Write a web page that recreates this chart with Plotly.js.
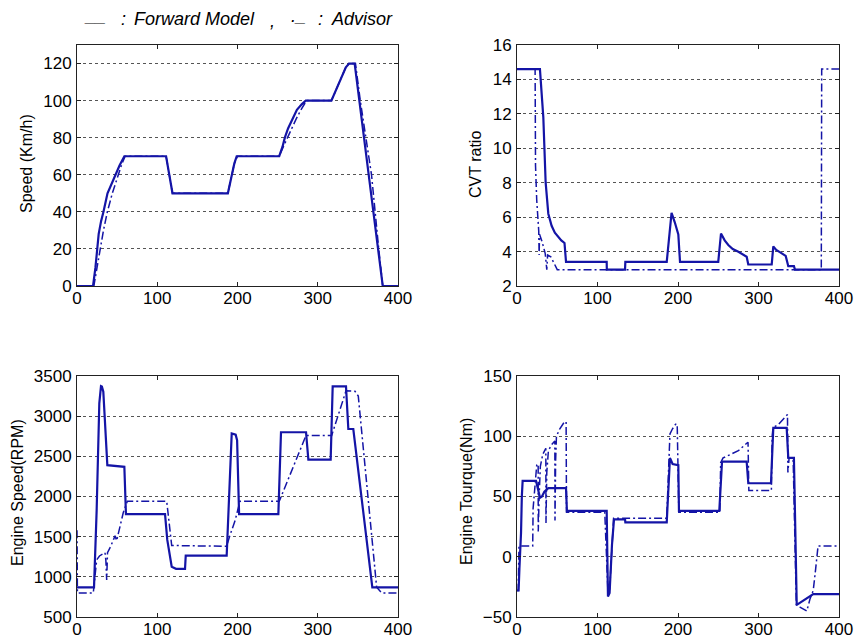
<!DOCTYPE html>
<html>
<head>
<meta charset="utf-8">
<script src="https://cdn.plot.ly/plotly-3.0.1.min.js"></script>
<style>html,body{margin:0;padding:0;background:#fff;}#chart{width:855px;height:638px;}</style>
</head>
<body>
<div id="chart"></div>
<script>
// ---- Data (time in s) ----
// Speed (Km/h)
const speedFwdT = [0,20,23,25,27,30,33,38,42,47,53,59,111,119,188,192,196,199,252,256,259,263,268,274,280,285,317,324,330,335,339,346,381,400];
const speedFwdV = [0,0,10,20,28,35,40,50,54,60,65,70,70,50,50,58,66,70,70,75,80,85,90,95,98,100,100,107,114,118,120,120,0,0];
const speedAdvT = [0,21,25,28.6,33,37.8,44,51.5,56,60,111,119,188,192,196,200,252,257,262,267,273,279,286,317,324,330,335,339,347,353,360,367,376,381,400];
const speedAdvV = [0,0,10,20,30,40,50,60,66,70,70,50,50,58,66,70,70,75,80,85,90,95,100,100,107,114,118,120,120,100,80,60,20,0,0];

// CVT ratio
const cvtFwdT = [0,28.5,32.7,35.6,38.9,43,47,51.3,55,59,60.9,111.4,111.6,134.2,134.6,186,192,196,200.4,202.5,250,253.4,258,262.5,268,275,280,285.3,287.3,316.4,318.4,322,327,333.8,337,344,345.3,400];
const cvtFwdV = [14.6,14.6,11.8,8.0,6.2,5.5,5.1,4.86,4.65,4.5,3.4,3.4,2.95,2.95,3.4,3.4,6.25,5.7,5.0,3.4,3.4,5.05,4.65,4.38,4.15,3.99,3.85,3.7,3.25,3.25,4.3,4.1,3.95,3.75,3.15,3.15,2.95,2.95];
const cvtAdvT = [0,22.5,23,24.5,27,27.5,28,31,35,37,38,42,46,50,378,378.5,400];
const cvtAdvV = [14.6,14.6,9,7,5.2,3.8,5,4.6,3.9,2.95,3.8,3.7,3.3,2.95,2.95,14.6,14.6];

// Engine speed (RPM)
const rpmFwdT = [0,21.2,24.5,27.8,29.9,31,32.8,35,37.8,59,61,109.7,112.5,118,123.4,134.6,135.5,186.5,192.8,197.7,199.5,202,250.9,254.2,285.4,288.3,316.1,318.6,335.2,338.1,344.3,368,400];
const rpmFwdV = [870,870,1830,3160,3375,3370,3305,2900,2390,2370,1780,1780,1460,1125,1100,1100,1265,1265,2785,2770,2700,1780,1780,2800,2800,2460,2460,3370,3370,2840,2840,870,870];
const rpmAdvT = [0,0.5,20.3,24.5,28,34.9,36,37,38,42,47.4,49.4,57.7,62.7,111.8,118,186.5,190,197,203,252,285.4,317.4,335.2,346.4,350.5,373.4,379.7,400];
const rpmAdvV = [1580,800,800,1210,1260,1300,1200,960,1300,1380,1510,1450,1800,1940,1940,1390,1380,1500,1700,1940,1940,2760,2760,3315,3310,3250,870,800,800];

// Engine torque (Nm)
const trqFwdT = [0,2,3,5,6,7,23.6,26,28.6,31,34,38.9,60.9,62,111.4,113,115,118,120.5,134.2,134.6,186,190,193.3,200.4,201.2,251.3,254.7,285.3,287.3,315.5,318.4,335,337,344,347.5,352,360,368,400];
const trqFwdV = [-28,-28,-10,20,50,63,63,55,49,50,54,57,57,38,38,-33,-30,10,31,31,28.5,28.5,82,77,76,38,38,79,79,61,61,107,107,82,82,-40,-38,-35,-31,-31];
const trqAdvT = [0,1.5,2.5,19.5,20,22,24.5,26.3,26.4,27.5,29,32,35.8,36,37,39,43,47,47.2,48,49,53,57,59,61,61.5,109,111,113,115,117,120,186,189,190,193,197,199,201,252,253,256,265,275,285,287,288,316,317,318,325,335,336,336.5,338,343,347,352,360,364,368,371,374,400];
const trqAdvV = [-28,-28,9,9,40,60,76,77,21,50,75,85,90,28,70,88,93,96,30,80,100,106,110,112,112,37,37,0,-30,-28,0,32,32,80,102,106,110,110,37,37,78,82,85,88,94,95,55,55,100,107,110,117,118,70,82,82,-40,-42,-45,-35,-28,-10,9,9];

// ---- Styling ----
const lineColor = '#1414a6';
const font = 'Liberation Sans, Arial, sans-serif';
const W = 855, H = 638;
const px = v => v / W;
const py = v => 1 - v / H;

function solid(x, y, xa, ya) {
  return {x, y, xaxis: xa, yaxis: ya, type: 'scatter', mode: 'lines',
    line: {color: lineColor, width: 2.2}, hoverinfo: 'skip', showlegend: false};
}
function dashdot(x, y, xa, ya) {
  return {x, y, xaxis: xa, yaxis: ya, type: 'scatter', mode: 'lines',
    line: {color: lineColor, width: 1.5, dash: '8px,3px,2px,3px'}, hoverinfo: 'skip', showlegend: false};
}

const data = [
  dashdot(speedAdvT, speedAdvV, 'x', 'y'),
  solid(speedFwdT, speedFwdV, 'x', 'y'),
  dashdot(cvtAdvT, cvtAdvV, 'x2', 'y2'),
  solid(cvtFwdT, cvtFwdV, 'x2', 'y2'),
  dashdot(rpmAdvT, rpmAdvV, 'x3', 'y3'),
  solid(rpmFwdT, rpmFwdV, 'x3', 'y3'),
  dashdot(trqAdvT, trqAdvV, 'x4', 'y4'),
  solid(trqFwdT, trqFwdV, 'x4', 'y4')
];

function xax(domain, anchor) {
  return {domain, anchor, range: [0, 400], tickvals: [0,100,200,300,400], ticks: 'inside', ticklen: 4,
    tickcolor: '#222', showline: true, linecolor: '#222', linewidth: 1, mirror: 'ticks',
    showgrid: false, zeroline: false, ticklabelstandoff: -3,
    tickfont: {family: font, size: 17, color: '#000'}, fixedrange: true};
}
function yax(domain, anchor, range, tickvals) {
  return {domain, anchor, range, tickvals, ticks: 'inside', ticklen: 4, tickcolor: '#222',
    showline: true, linecolor: '#222', linewidth: 1, mirror: 'ticks',
    showgrid: true, gridcolor: '#555', griddash: 'dot', gridwidth: 1, zeroline: false,
    ticklabelstandoff: 1, tickfont: {family: font, size: 17, color: '#000'}, fixedrange: true};
}

const dxL = [px(77), px(398)], dxR = [px(517), px(839)];
const dyT = [py(286), py(45)], dyB = [py(617), py(376)];

function ann(text, x, y, opts) {
  return Object.assign({text, x: px(x), y: py(y), xref: 'paper', yref: 'paper',
    xanchor: 'left', yanchor: 'middle', showarrow: false,
    font: {family: font, size: 18, color: '#000'}}, opts || {});
}
function ytitle(text, x, y) {
  return {text, x: px(x), y: py(y), xref: 'paper', yref: 'paper', xanchor: 'center', yanchor: 'middle',
    textangle: -90, showarrow: false, font: {family: font, size: 16, color: '#000'}};
}

const it = t => '<i>' + t + '</i>';
const layout = {
  width: W, height: H, margin: {l: 0, r: 0, t: 0, b: 0},
  paper_bgcolor: '#fff', plot_bgcolor: '#fff', showlegend: false,
  xaxis: xax(dxL, 'y'), yaxis: yax(dyT, 'x', [0, 130], [0,20,40,60,80,100,120]),
  xaxis2: xax(dxR, 'y2'), yaxis2: yax(dyT, 'x2', [2, 16], [2,4,6,8,10,12,14,16]),
  xaxis3: xax(dxL, 'y3'), yaxis3: yax(dyB, 'x3', [500, 3500], [500,1000,1500,2000,2500,3000,3500]),
  xaxis4: xax(dxR, 'y4'), yaxis4: yax(dyB, 'x4', [-50, 150], [-50,0,50,100,150]),
  annotations: [
    ann(it('__'), 82, 16),
    ann(it(':'), 119, 19),
    ann(it('Forward Model'), 132, 19),
    ann(it(','), 268, 21),
    ann(it('._'), 289, 16),
    ann(it(':'), 316, 19),
    ann(it('Advisor'), 329, 19),
    ytitle('Speed (Km/h)', 26, 164),
    ytitle('CVT ratio', 476, 165),
    ytitle('Engine Speed(RPM)', 17, 493),
    ytitle('Engine Tourque(Nm)', 466, 492)
  ]
};

Plotly.newPlot('chart', data, layout, {staticPlot: true, displayModeBar: false});
</script>
</body>
</html>
